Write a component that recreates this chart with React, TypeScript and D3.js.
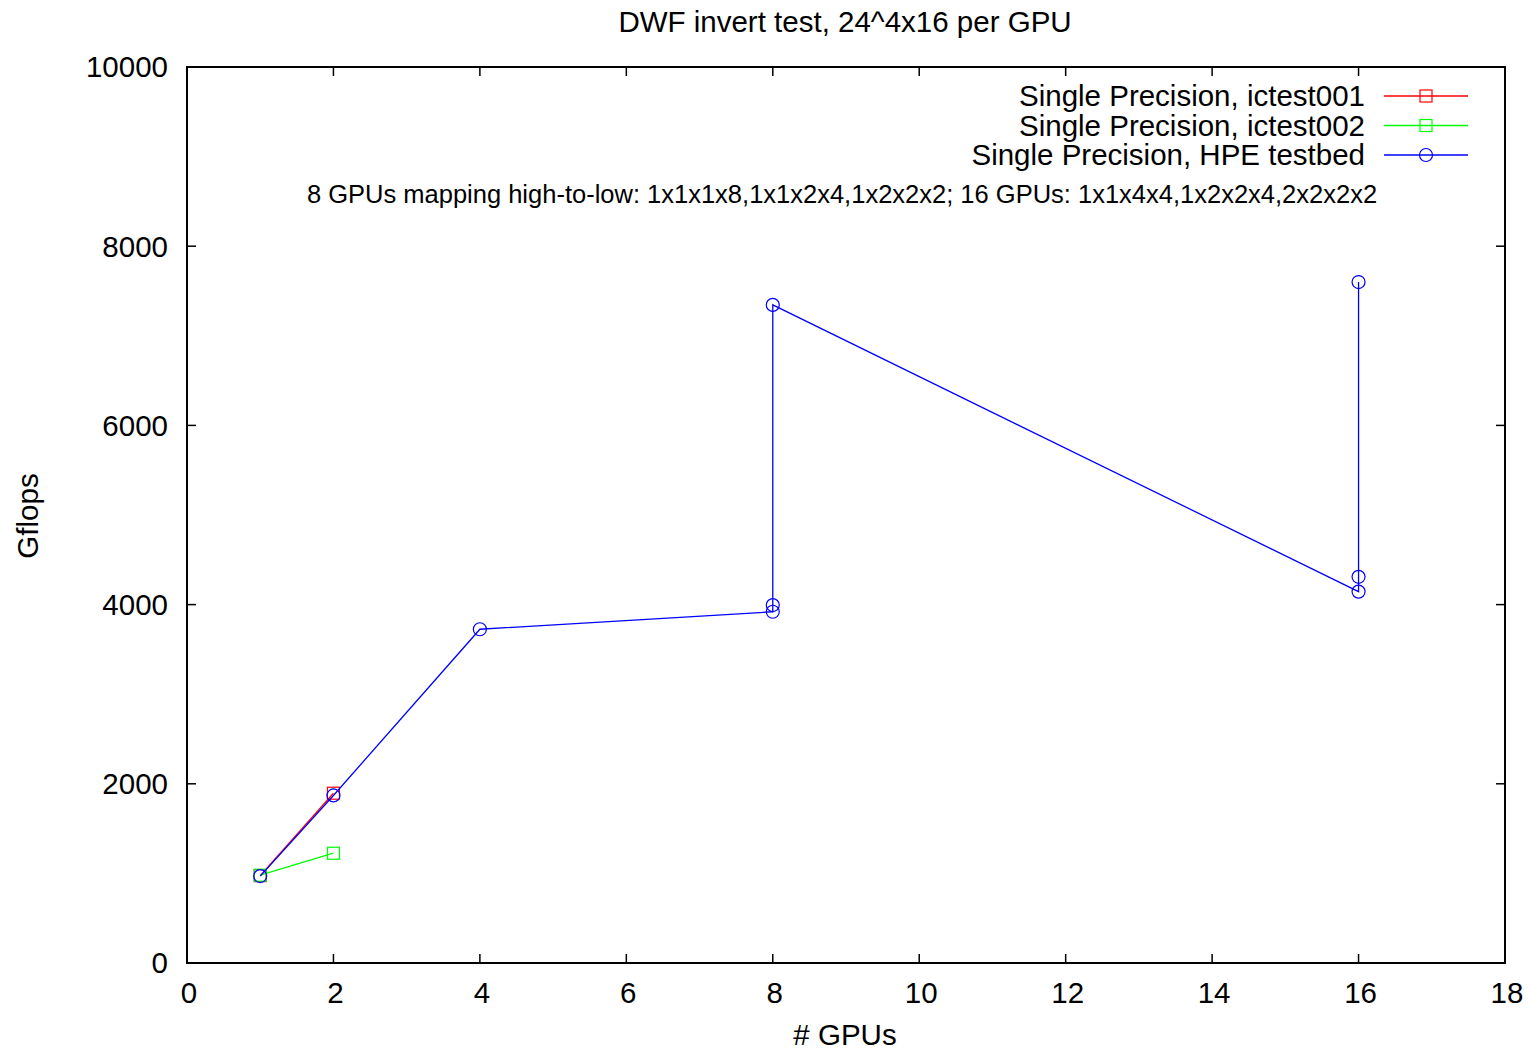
import React from "react"
import * as d3 from "d3"

// data
const ictest001 = [
  { gpus: 1, gflops: 975 },
  { gpus: 2, gflops: 1895 },
]
const ictest002 = [
  { gpus: 1, gflops: 980 },
  { gpus: 2, gflops: 1225 },
]
const hpeTestbed = [
  { gpus: 1, gflops: 970 },
  { gpus: 2, gflops: 1870 },
  { gpus: 4, gflops: 3725 },
  { gpus: 8, gflops: 3920 },
  { gpus: 8, gflops: 3995 },
  { gpus: 8, gflops: 7345 },
  { gpus: 16, gflops: 4145 },
  { gpus: 16, gflops: 4310 },
  { gpus: 16, gflops: 7600 },
]
const xTicks = [0, 2, 4, 6, 8, 10, 12, 14, 16, 18]
const yTicks = [0, 2000, 4000, 6000, 8000, 10000]

const seriesList = [
  { name: "Single Precision, ictest001", color: "#ff0000", marker: "square", data: ictest001 },
  { name: "Single Precision, ictest002", color: "#00ff00", marker: "square", data: ictest002 },
  { name: "Single Precision, HPE testbed", color: "#0000ff", marker: "circle", data: hpeTestbed },
]

const note = "8 GPUs mapping high-to-low: 1x1x1x8,1x1x2x4,1x2x2x2; 16 GPUs: 1x1x4x4,1x2x2x4,2x2x2x2"

const W = 1532
const H = 1050
const margin = { top: 67, right: 27, bottom: 87, left: 187 }
const font = "'Liberation Sans', Arial, sans-serif"
const fs = 29.5

const Marker = ({ kind, x, y, color }) =>
  kind === "square" ? (
    <rect x={x - 6} y={y - 6} width={12} height={12} fill="none" stroke={color} strokeWidth={1.2} />
  ) : (
    <circle cx={x} cy={y} r={6.5} fill="none" stroke={color} strokeWidth={1.2} />
  )

export default function App() {
  const x = d3.scaleLinear().domain([0, 18]).range([margin.left, W - margin.right])
  const y = d3.scaleLinear().domain([0, 10000]).range([H - margin.bottom, margin.top])
  const line = d3
    .line<{ gpus: number; gflops: number }>()
    .x((d) => x(d.gpus))
    .y((d) => y(d.gflops))

  const x0 = x(0)
  const x1 = x(18)
  const y0 = y(0)
  const y1 = y(10000)
  const tick = 9

  return (
    <svg width={W} height={H} style={{ position: "absolute", left: 0, top: 0, background: "#fff" }} fontFamily={font}>
      <rect width={W} height={H} fill="#fff" />
      {/* ticks, mirrored on all sides */}
      {xTicks.map((t) => (
        <g key={"x" + t}>
          <line x1={x(t)} x2={x(t)} y1={y0} y2={y0 - tick} stroke="#000" strokeWidth={1.5} />
          <line x1={x(t)} x2={x(t)} y1={y1} y2={y1 + tick} stroke="#000" strokeWidth={1.5} />
          <text x={x(t) + 2} y={1003} textAnchor="middle" fontSize={fs}>
            {t}
          </text>
        </g>
      ))}
      {yTicks.map((t) => (
        <g key={"y" + t}>
          <line x1={x0} x2={x0 + tick} y1={y(t)} y2={y(t)} stroke="#000" strokeWidth={1.5} />
          <line x1={x1} x2={x1 - tick} y1={y(t)} y2={y(t)} stroke="#000" strokeWidth={1.5} />
          <text x={168} y={y(t)} dy="0.35em" textAnchor="end" fontSize={fs}>
            {t}
          </text>
        </g>
      ))}
      <rect x={x0} y={y1} width={x1 - x0} height={y0 - y1} fill="none" stroke="#000" strokeWidth={2} />

      {/* series */}
      {seriesList.map((s) => (
        <g key={s.name}>
          <path d={line(s.data) || ""} fill="none" stroke={s.color} strokeWidth={1.3} />
          {s.data.map((d, i) => (
            <Marker key={i} kind={s.marker} x={x(d.gpus)} y={y(d.gflops)} color={s.color} />
          ))}
        </g>
      ))}

      {/* legend */}
      {seriesList.map((s, i) => {
        const ly = 96 + i * 29.5
        return (
          <g key={"l" + i}>
            <text x={1365} y={ly} dy="0.35em" textAnchor="end" fontSize={fs}>
              {s.name}
            </text>
            <line x1={1384} x2={1468} y1={ly} y2={ly} stroke={s.color} strokeWidth={1.3} />
            <Marker kind={s.marker} x={1426} y={ly} color={s.color} />
          </g>
        )
      })}
      <text x={842} y={194} dy="0.35em" textAnchor="middle" fontSize={25.5}>
        {note}
      </text>

      {/* titles */}
      <text x={845} y={22} dy="0.35em" textAnchor="middle" fontSize={fs}>
        DWF invert test, 24^4x16 per GPU
      </text>
      <text x={845} y={1045} textAnchor="middle" fontSize={fs}>
        # GPUs
      </text>
      <text transform={`translate(28,516) rotate(-90)`} dy="0.35em" textAnchor="middle" fontSize={fs}>
        Gflops
      </text>
    </svg>
  )
}
